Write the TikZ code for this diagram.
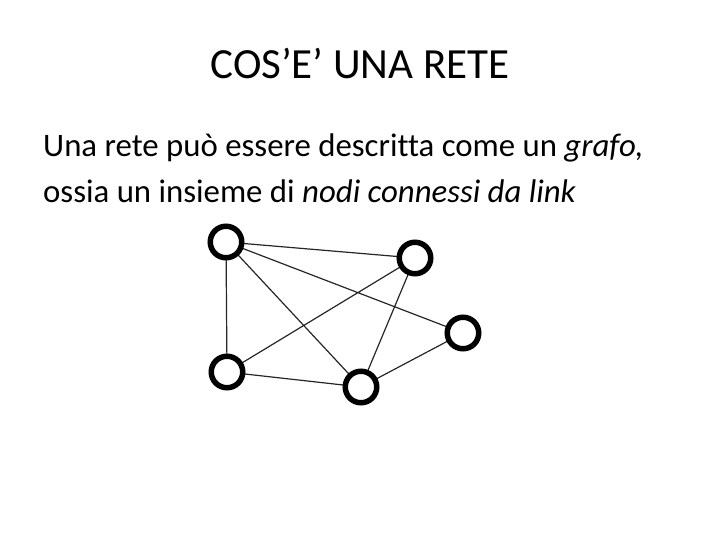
\documentclass[tikz,border=0pt]{standalone}
\usepackage{fontspec}
\setmainfont[Ligatures=NoCommon]{Carlito}
\begin{document}
\begin{tikzpicture}[x=1pt,y=-1pt,
  vert/.style={circle,draw=black,line width=5.5pt,minimum size=31.5pt,inner sep=0pt,fill=white},
  link/.style={draw=black!85,line width=1.2pt}]
\useasboundingbox (0,0) rectangle (720,540);
\node[anchor=base,font=\fontsize{43}{50}\selectfont] (title) at (360,79) {COS’E’ UNA RETE};
\node[anchor=base west,inner sep=0pt,font=\fontsize{32.8}{38}\selectfont] (l1) at (43,157) {Una rete può essere descritta come un \textit{grafo,}};
\node[anchor=base west,inner sep=0pt,font=\fontsize{32.8}{38}\selectfont] (l2) at (43,203) {ossia un insieme di \textit{nodi connessi da link}};
\coordinate (pA) at (226,242);
\coordinate (pB) at (415,258);
\coordinate (pC) at (463,333);
\coordinate (pD) at (227,372);
\coordinate (pE) at (361,387);
\draw[link] (pA)--(pB) (pA)--(pC) (pA)--(pD) (pA)--(pE) (pB)--(pD) (pB)--(pE) (pC)--(pE) (pD)--(pE);
\node[vert] (A) at (pA) {};
\node[vert] (B) at (pB) {};
\node[vert] (C) at (pC) {};
\node[vert] (D) at (pD) {};
\node[vert] (E) at (pE) {};
\end{tikzpicture}
\end{document}
